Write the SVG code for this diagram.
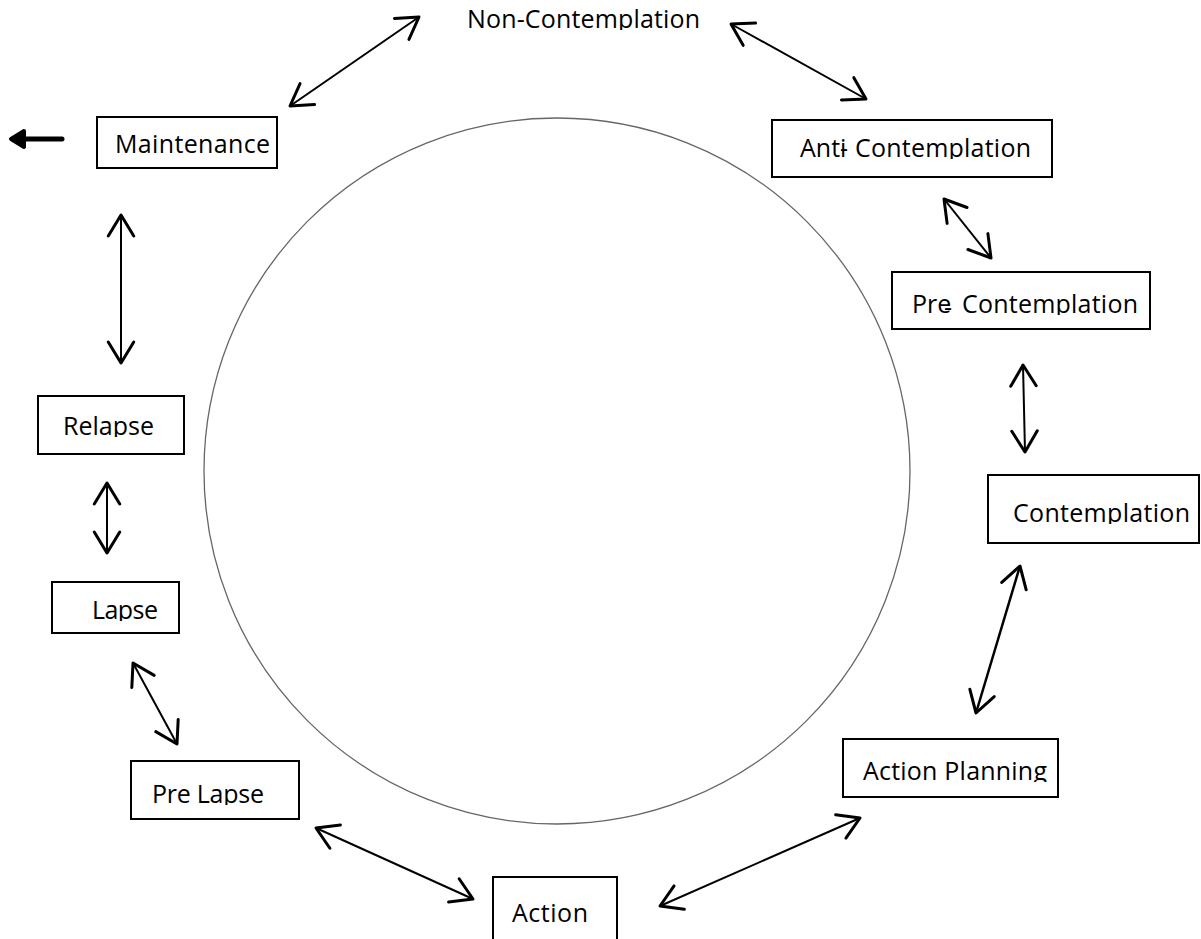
<svg xmlns="http://www.w3.org/2000/svg" width="1201" height="939" viewBox="0 0 1201 939">
<style>
.box{fill:#fff;stroke:#000;stroke-width:2}
.lbl{font-family:"Open Sans","Noto Sans","Liberation Sans",sans-serif;font-size:25px;fill:#000}
.con{stroke:#000;stroke-width:2;fill:none;marker-start:url(#ah);marker-end:url(#ah)}
</style>
<defs>
<marker id="ah" markerUnits="userSpaceOnUse" markerWidth="30" markerHeight="30" viewBox="-16 -10 20 20" refX="0" refY="0" orient="auto-start-reverse" overflow="visible">
<path d="M -14 -8.5 L 0 0 L -14 8.5" fill="none" stroke="#000" stroke-width="2" stroke-linejoin="round" stroke-linecap="round"/>
</marker>
<clipPath id="c-non"><rect x="440" y="0" width="300" height="30"/></clipPath>
<clipPath id="c-main"><rect x="100" y="118" width="176" height="37"/></clipPath>
<clipPath id="c-anti"><rect x="773" y="121" width="278" height="38"/></clipPath>
<clipPath id="c-pre"><rect x="893" y="273" width="256" height="42"/></clipPath>
<clipPath id="c-cont"><rect x="989" y="476" width="210" height="48"/></clipPath>
<clipPath id="c-ap"><rect x="844" y="740" width="213" height="42"/></clipPath>
<clipPath id="c-act"><rect x="494" y="878" width="122" height="46"/></clipPath>
<clipPath id="c-pl"><rect x="132" y="762" width="166" height="43"/></clipPath>
<clipPath id="c-lap"><rect x="53" y="583" width="125" height="38"/></clipPath>
<clipPath id="c-rel"><rect x="39" y="397" width="144" height="40"/></clipPath>
</defs>
<rect width="1201" height="939" fill="#fff"/>
<circle cx="557" cy="471" r="353" fill="none" stroke="#666" stroke-width="1.3"/>

<g id="connectors">
<line class="con" x1="290" y1="106" x2="419" y2="17"/>
<line class="con" x1="731" y1="24" x2="866" y2="99"/>
<line class="con" x1="944" y1="199" x2="991" y2="258"/>
<line class="con" x1="1023" y1="365" x2="1025" y2="452"/>
<line class="con" x1="1020" y1="566" x2="976" y2="713" style="stroke-width:2.5"/>
<line class="con" x1="860" y1="818" x2="660" y2="906"/>
<line class="con" x1="473" y1="899" x2="316" y2="828"/>
<line class="con" x1="177" y1="744" x2="133" y2="663"/>
<line class="con" x1="107" y1="553" x2="107" y2="483"/>
<line class="con" x1="121" y1="363" x2="121" y2="215"/>
<g id="exit-arrow">
<line x1="62" y1="139" x2="16" y2="139" stroke="#000" stroke-width="5" stroke-linecap="round"/>
<path d="M 24 131 L 11 139 L 24 147 Z" fill="#000" stroke="#000" stroke-width="4" stroke-linejoin="round"/>
</g>
</g>

<g id="non-contemplation">
<text class="lbl" x="467" y="28" textLength="233" clip-path="url(#c-non)">Non-Contemplation</text>
</g>
<g id="maintenance">
<rect class="box" x="97" y="117" width="180" height="51"/>
<text class="lbl" x="115" y="153" textLength="155" clip-path="url(#c-main)">Maintenance</text>
</g>
<g id="anti-contemplation">
<rect class="box" x="772" y="120" width="280" height="57"/>
<text class="lbl" y="157" clip-path="url(#c-anti)"><tspan x="800">Anti</tspan><tspan x="840">-</tspan><tspan x="855" textLength="176">Contemplation</tspan></text>
</g>
<g id="pre-contemplation">
<rect class="box" x="892" y="272" width="258" height="57"/>
<text class="lbl" y="313" clip-path="url(#c-pre)"><tspan x="912">Pre</tspan><tspan x="944" dy="3">-</tspan><tspan x="962" dy="-3" textLength="176">Contemplation</tspan></text>
</g>
<g id="contemplation">
<rect class="box" x="988" y="475" width="211" height="68"/>
<text class="lbl" x="1013" y="522" textLength="177" clip-path="url(#c-cont)">Contemplation</text>
</g>
<g id="action-planning">
<rect class="box" x="843" y="739" width="215" height="58"/>
<text class="lbl" x="863" y="780" textLength="184" clip-path="url(#c-ap)">Action Planning</text>
</g>
<g id="action">
<rect class="box" x="493" y="877" width="124" height="70"/>
<text class="lbl" x="512" y="922" textLength="76" clip-path="url(#c-act)">Action</text>
</g>
<g id="pre-lapse">
<rect class="box" x="131" y="761" width="168" height="58"/>
<text class="lbl" x="152" y="803" textLength="112" clip-path="url(#c-pl)">Pre Lapse</text>
</g>
<g id="lapse">
<rect class="box" x="52" y="582" width="127" height="51"/>
<text class="lbl" x="92" y="619" textLength="66" clip-path="url(#c-lap)">Lapse</text>
</g>
<g id="relapse">
<rect class="box" x="38" y="396" width="146" height="58"/>
<text class="lbl" x="63" y="435" textLength="91" clip-path="url(#c-rel)">Relapse</text>
</g>
</svg>
